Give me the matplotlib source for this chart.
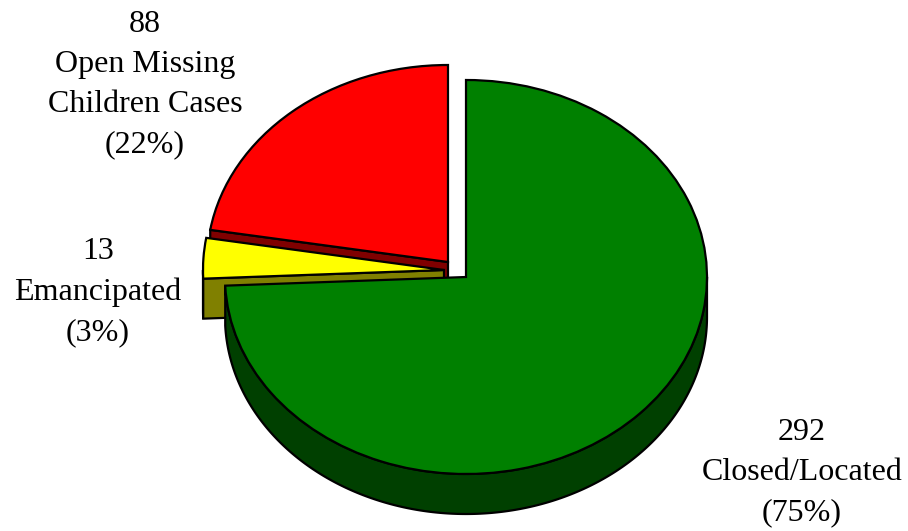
import numpy as np
import matplotlib
matplotlib.use("Agg")
import matplotlib.pyplot as plt
from matplotlib.patches import Wedge
from matplotlib.transforms import Affine2D

# slice data, clockwise from 12 o'clock
counts = [292, 13, 88]
percents = [75, 3, 22]
names = ["Closed/Located", "Emancipated", "Open Missing\nChildren Cases"]
top_colors = ["#008000", "#ffff00", "#ff0000"]
side_colors = ["#004000", "#808000", "#800000"]

# pixel positions of the pulled apart slices
centers = [(466, 277), (444, 270), (448, 262)]
label_pos = [(802, 472.5), (98, 292), (145, 84.5)]

rx, ry = 241, 197
depth = 40

plt.rcParams["font.family"] = ["Liberation Serif", "DejaVu Serif"]

fig = plt.figure(figsize=(9.08, 5.31), dpi=100)
ax = fig.add_axes([0, 0, 1, 1])
ax.set_xlim(0, 908)
ax.set_ylim(531, 0)
ax.axis("off")


def ellipse_xy(cx, cy, ang):
    a = np.radians(ang)
    return cx + rx * np.cos(a), cy - ry * np.sin(a)


def draw_side(cx, cy, t1, t2, color, z):
    # t1 > t2, running clockwise. The wall is only seen where the rim faces down
    ang = np.linspace(t1, t2, 300)
    ang = ang[np.sin(np.radians(ang)) <= 0]
    if len(ang) > 1:
        x, y = ellipse_xy(cx, cy, ang)
        ax.fill(np.r_[x, x[::-1]], np.r_[y, y[::-1] + depth], fc=color,
                ec="black", lw=1.6, zorder=z)
    # the cut face that looks towards us
    ex, ey = ellipse_xy(cx, cy, t1)
    ax.fill([cx, ex, ex, cx], [cy, ey, ey + depth, cy + depth], fc=color,
            ec="black", lw=1.6, zorder=z)


angles = 90 - 360 * np.cumsum([0] + counts) / sum(counts)

# red goes first so yellow and green can sit over it
for i in [2, 1, 0]:
    t1, t2 = angles[i], angles[i + 1]
    cx, cy = centers[i]
    z = 3 - i
    if i == 0:
        # green wall, only the front rim shows
        ang = np.linspace(0, t2, 300)
        x, y = ellipse_xy(cx, cy, ang)
        ax.fill(np.r_[x, x[::-1]], np.r_[y, y[::-1] + depth], fc=side_colors[i],
                ec="black", lw=1.6, zorder=z)
    else:
        draw_side(cx, cy, t1, t2, side_colors[i], z)
    tr = Affine2D().scale(rx, -ry).translate(cx, cy) + ax.transData
    ax.add_patch(Wedge((0, 0), 1, t2, t1, fc=top_colors[i], ec="black", lw=1.6,
                       transform=tr, zorder=z + 0.5))

for n, c, p, pos in zip(names, counts, percents, label_pos):
    ax.text(pos[0], pos[1], f"{c}\n{n}\n({p}%)", ha="center", va="center",
            fontsize=23, color="black", linespacing=1.5, zorder=10)

fig.savefig("out.png", dpi=100)
